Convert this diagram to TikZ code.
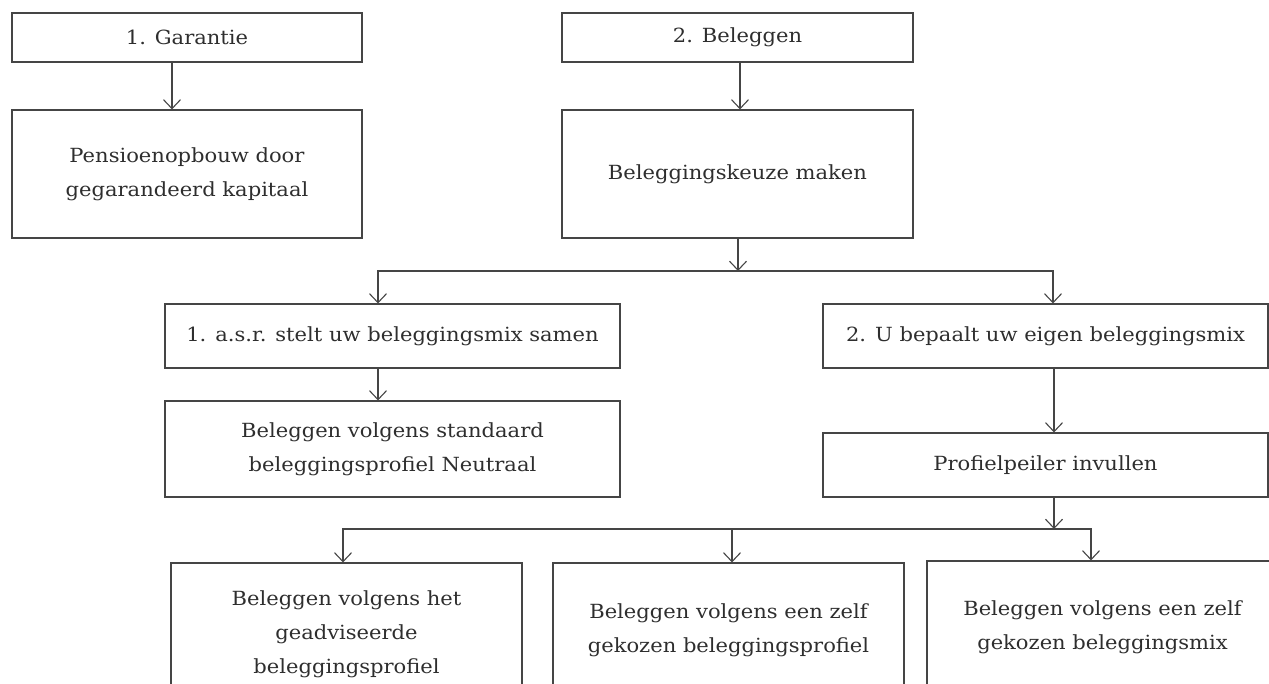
\documentclass[tikz,border=0pt]{standalone}
\usepackage{fontspec}
\setmainfont{DejaVu Serif}[FakeStretch=1.08]
\usetikzlibrary{arrows.meta}
\definecolor{linec}{HTML}{454545}
\definecolor{textc}{HTML}{2E2E2E}
\begin{document}
\begin{tikzpicture}[x=1pt,y=-1pt,
  box/.style={draw=linec, line width=1.1pt, text=textc, align=center, inner sep=0pt,
    font=\fontsize{19.5}{34}\selectfont},
  arr/.style={draw=linec, line width=1.1pt,
    -{Straight Barb[length=9pt,width=17pt,line width=1.1pt]}},
  ln/.style={draw=linec, line width=1.1pt}]
\useasboundingbox (0,0) rectangle (1269,684);
\clip (0,0) rectangle (1269,684);
% nodes
\node[box, minimum width=350, minimum height=49] (A) at (187,37.5) {1. Garantie};
\node[box, minimum width=350, minimum height=128] (B) at (187,174) {Pensioenopbouw door\\gegarandeerd kapitaal};
\node[box, minimum width=351, minimum height=49] (C) at (737.5,37.5) {2. Beleggen};
\node[box, minimum width=351, minimum height=128] (D) at (737.5,174) {Beleggingskeuze maken};
\node[box, minimum width=455, minimum height=64] (E) at (392.5,336) {1. a.s.r. stelt uw beleggingsmix samen};
\node[box, minimum width=455, minimum height=96] (K) at (392.5,449) {Beleggen volgens standaard\\beleggingsprofiel Neutraal};
\node[box, minimum width=445, minimum height=64] (F) at (1045.5,336) {2. U bepaalt uw eigen beleggingsmix};
\node[box, minimum width=445, minimum height=64] (G) at (1045.5,465) {Profielpeiler invullen};
\node[box, minimum width=351, minimum height=142] (H) at (346.5,634) {Beleggen volgens het\\geadviseerde\\beleggingsprofiel};
\node[box, minimum width=351, minimum height=134] (I) at (728.5,630) {Beleggen volgens een zelf\\gekozen beleggingsprofiel};
\node[box, minimum width=351, minimum height=132] (J) at (1102.5,627) {Beleggen volgens een zelf\\gekozen beleggingsmix};
% connector columns
\coordinate (xA) at (172,0);
\coordinate (xC) at (740,0);
\coordinate (xD) at (738,271);
\coordinate (xE) at (378,0);
\coordinate (xF) at (1053,0);
\coordinate (xG) at (1054,529);
\coordinate (xH) at (343,0);
\coordinate (xI) at (732,0);
\coordinate (xJ) at (1091,0);
% connectors
\draw[arr] (xA |- A.south) -- (xA |- B.north);
\draw[arr] (xC |- C.south) -- (xC |- D.north);
\draw[arr] (xD |- D.south) -- (xD);
\draw[arr] (xD) -| (xE |- E.north);
\draw[arr] (xD) -| (xF |- F.north);
\draw[arr] (xE |- E.south) -- (xE |- K.north);
\draw[arr] (xG |- F.south) -- (xG |- G.north);
\draw[arr] (xG |- G.south) -- (xG);
\draw[arr] (xG) -| (xH |- H.north);
\draw[arr] (xG) -| (xJ |- J.north);
\draw[arr] (xI |- xG) -- (xI |- I.north);
\end{tikzpicture}
\end{document}
